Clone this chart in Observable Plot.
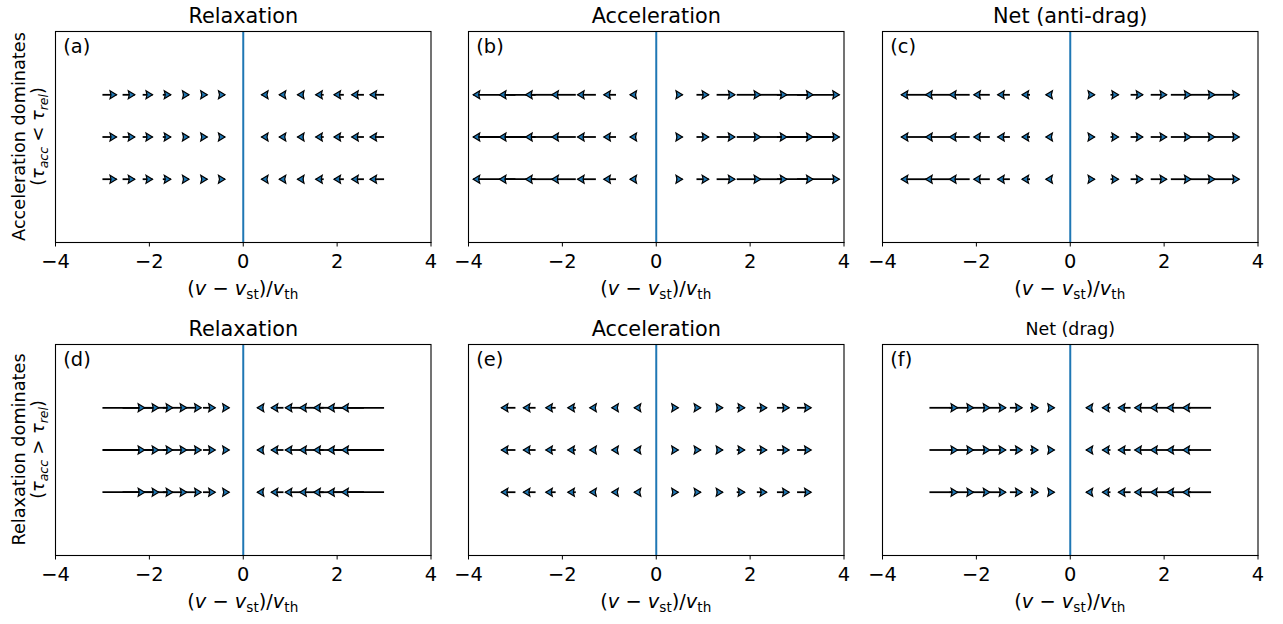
<!DOCTYPE html>
<html><head><meta charset="utf-8">
<script src="https://cdn.jsdelivr.net/npm/d3@7"></script>
<script src="https://cdn.jsdelivr.net/npm/@observablehq/plot@0.6"></script>
<style>
body{margin:0;background:#fff;}
#fig{position:relative;width:1283px;height:624px;overflow:hidden;background:#fff;font-family:"DejaVu Sans",sans-serif;}
#fig svg{position:absolute;overflow:visible;}
</style>
</head><body><div id="fig"></div>
<script>
// ---- data ----
const xGrid = [-3, -2.571, -2.143, -1.714, -1.286, -0.857, -0.429, 0, 0.429, 0.857, 1.286, 1.714, 2.143, 2.571, 3];
const yRows = [-1, 0, 1];
const uRelaxWeak   = [0.30, 0.26, 0.21, 0.17, 0.13, 0.09, 0.04, 0, -0.04, -0.09, -0.13, -0.17, -0.21, -0.26, -0.30];
const uAccelStrong = [-0.90, -0.77, -0.64, -0.51, -0.39, -0.26, -0.13, 0, 0.13, 0.26, 0.39, 0.51, 0.64, 0.77, 0.90];
const uNetAnti     = [-0.60, -0.51, -0.43, -0.34, -0.26, -0.17, -0.09, 0, 0.09, 0.17, 0.26, 0.34, 0.43, 0.51, 0.60];
const uRelaxStrong = [0.90, 0.77, 0.64, 0.51, 0.39, 0.26, 0.13, 0, -0.13, -0.26, -0.39, -0.51, -0.64, -0.77, -0.90];
const uAccelWeak   = [-0.30, -0.26, -0.21, -0.17, -0.13, -0.09, -0.04, 0, 0.04, 0.09, 0.13, 0.17, 0.21, 0.26, 0.30];
const uNetDrag     = [0.60, 0.51, 0.43, 0.34, 0.26, 0.17, 0.09, 0, -0.09, -0.17, -0.26, -0.34, -0.43, -0.51, -0.60];
const panelU = [uRelaxWeak, uAccelStrong, uNetAnti, uRelaxStrong, uAccelWeak, uNetDrag];
const panelTitles = ["Relaxation", "Acceleration", "Net (anti-drag)", "Relaxation", "Acceleration", "Net (drag)"];
const panelLetters = ["(a)", "(b)", "(c)", "(d)", "(e)", "(f)"];
const xTicks = [-4, -2, 0, 2, 4];
const xDomain = [-4, 4];
const yDomain = [-2.5, 2.5];
const rowLabels = [
  {main: "Acceleration dominates", rel: "<"},
  {main: "Relaxation dominates", rel: ">"}
];

// ---- layout ----
const colLeft = [55, 468.35, 881.7];
const rowTop = [31, 344];
const panelW = 375.5, panelH = 211;
const mL = 20, mR = 20.5, mT = 40, mB = 70;
const C0 = "#1f77b4";

const headRight = {draw(ctx){ ctx.moveTo(0,0); ctx.lineTo(-6.5,-4); ctx.lineTo(-5.5,0); ctx.lineTo(-6.5,4); ctx.closePath(); }};
const headLeft  = {draw(ctx){ ctx.moveTo(0,0); ctx.lineTo(6.5,-4); ctx.lineTo(5.5,0); ctx.lineTo(6.5,4); ctx.closePath(); }};
const fmt = d => d < 0 ? "\u2212" + (-d) : String(d);

const fig = document.getElementById("fig");

panelU.forEach((u, p) => {
  const r = Math.floor(p / 3), c = p % 3;
  const data = [];
  yRows.forEach(y => xGrid.forEach((x, i) => { if (u[i] !== 0) data.push({x, y, u: u[i], tip: x + u[i]}); }));
  const titleSize = (p === 5) ? 17.4 : 20.8;
  const titleBase = (p === 5) ? 9.3 : 8.3;
  const chart = Plot.plot({
    width: panelW + mL + mR,
    height: panelH + mT + mB,
    marginLeft: mL, marginRight: mR, marginTop: mT, marginBottom: mB,
    style: {overflow: "visible", background: "transparent", maxWidth: "none", color: "black", fontFamily: "DejaVu Sans"},
    x: {domain: xDomain, axis: null},
    y: {domain: yDomain, axis: null},
    marks: [
      Plot.ruleX([0], {stroke: C0, strokeWidth: 2}),
      Plot.link(data, {x1: "x", x2: "tip", y1: "y", y2: "y", stroke: "black", strokeWidth: 1.8}),
      Plot.dot(data.filter(d => d.u > 0), {x: "tip", y: "y", symbol: headRight, r: 4, fill: C0, stroke: "black", strokeWidth: 1.2}),
      Plot.dot(data.filter(d => d.u < 0), {x: "tip", y: "y", symbol: headLeft, r: 4, fill: C0, stroke: "black", strokeWidth: 1.2}),
      Plot.frame({stroke: "black", strokeWidth: 1.1}),
      Plot.axisX({ticks: xTicks, tickFormat: fmt, tickSize: 4.5, tickPadding: 7.5, fontSize: 19.4, label: null, stroke: "black"}),
      Plot.text([panelTitles[p]], {frameAnchor: "top", lineAnchor: "middle", dy: -titleBase - 0.32 * titleSize, fontSize: titleSize, fill: "black"}),
      Plot.text([panelLetters[p]], {frameAnchor: "top-left", lineAnchor: "middle", textAnchor: "start", dx: 7.8, dy: 21 - 0.32 * 19.4, fontSize: 19.4, fill: "black"})
    ]
  });
  chart.style.left = (colLeft[c] - mL) + "px";
  chart.style.top = (rowTop[r] - mT) + "px";
  fig.appendChild(chart);

  const svg = d3.select(chart);
  // x label: (v − v_st)/v_th
  const xl = svg.append("text")
    .attr("x", mL + panelW / 2).attr("y", mT + panelH + 52.5)
    .attr("text-anchor", "middle").attr("font-size", 19.4).attr("fill", "black")
    .attr("font-family", "DejaVu Sans");
  xl.append("tspan").text("(");
  xl.append("tspan").attr("font-style", "italic").text("v");
  xl.append("tspan").text(" \u2212 ");
  xl.append("tspan").attr("font-style", "italic").text("v");
  xl.append("tspan").attr("font-size", 13.6).attr("dy", 4.5).text("st");
  xl.append("tspan").attr("dy", -4.5).text(")/");
  xl.append("tspan").attr("font-style", "italic").text("v");
  xl.append("tspan").attr("font-size", 13.6).attr("dy", 4.5).text("th");

  if (c === 0) {
    const cy = mT + panelH / 2;
    const off = colLeft[0] - mL;
    const lab = rowLabels[r];
    svg.append("text")
      .attr("transform", `translate(${25 - off},${cy}) rotate(-90)`)
      .attr("text-anchor", "middle").attr("font-size", 17.7).attr("fill", "black")
      .attr("font-family", "DejaVu Sans").text(lab.main);
    const t2 = svg.append("text")
      .attr("transform", `translate(${44 - off},${cy}) rotate(-90)`)
      .attr("text-anchor", "middle").attr("font-size", 17.7).attr("fill", "black")
      .attr("font-family", "DejaVu Sans");
    t2.append("tspan").text("(");
    t2.append("tspan").attr("font-style", "italic").text("\u03c4");
    t2.append("tspan").attr("font-style", "italic").attr("font-size", 12.4).attr("dy", 4).text("acc");
    t2.append("tspan").attr("dy", -4).text(" " + lab.rel + " ");
    t2.append("tspan").attr("font-style", "italic").text("\u03c4");
    t2.append("tspan").attr("font-style", "italic").attr("font-size", 12.4).attr("dy", 4).text("rel");
    t2.append("tspan").attr("dy", -4).text(")");
  }
});
</script>
</body></html>
